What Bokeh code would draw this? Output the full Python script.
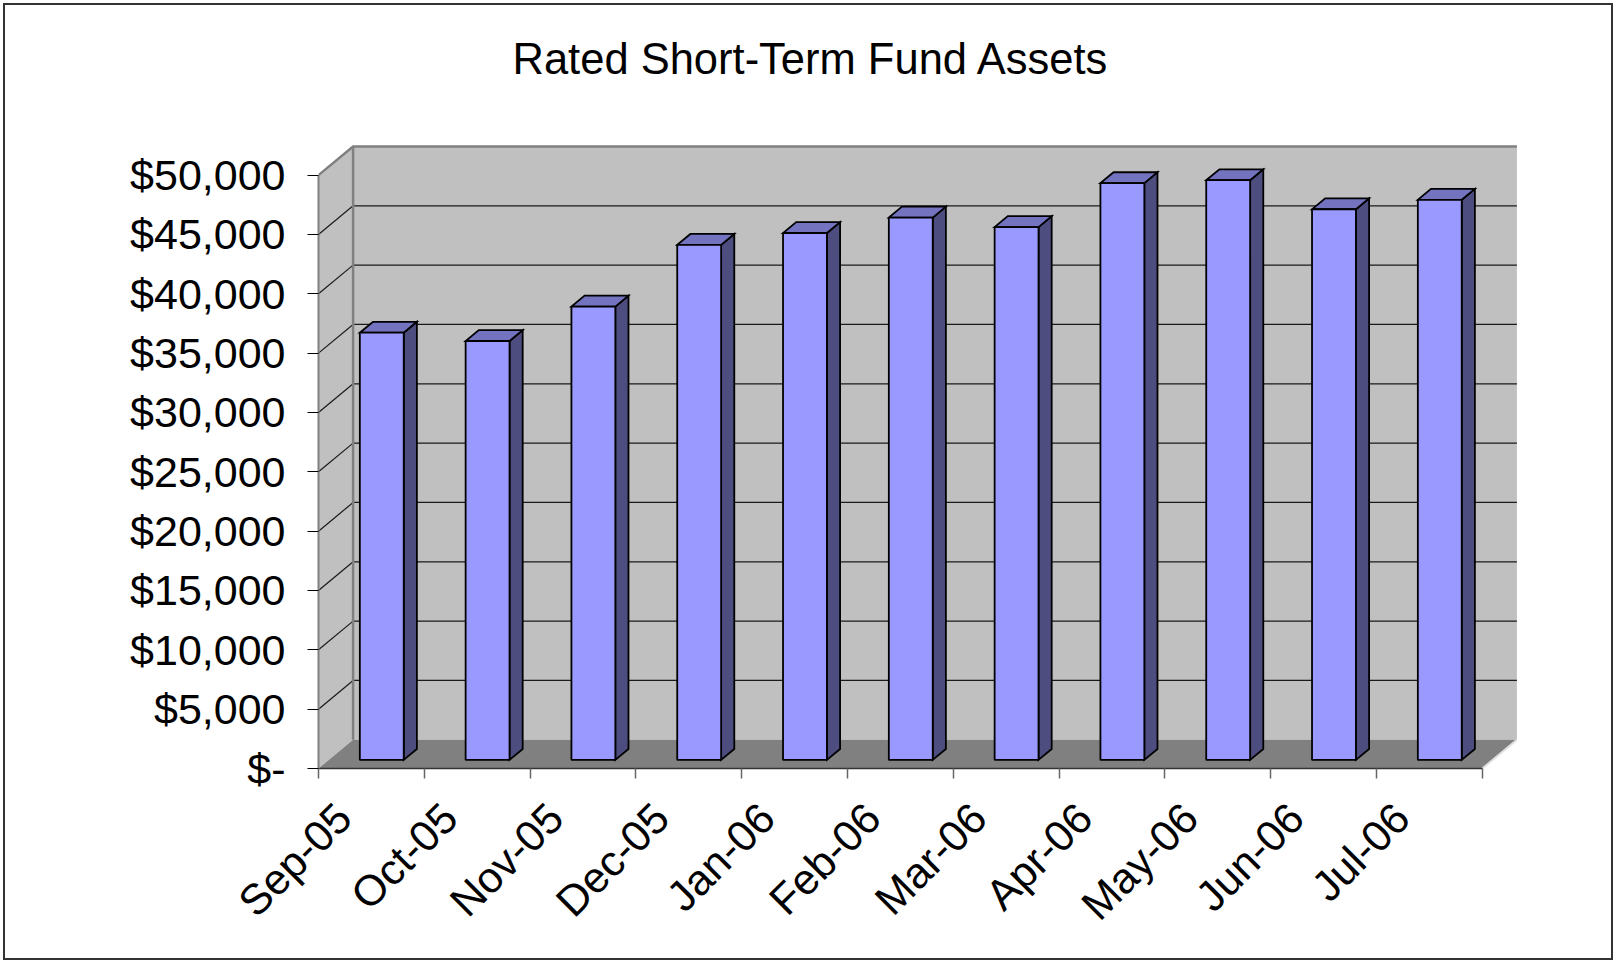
import math
import numpy as np
from bokeh.plotting import figure
from bokeh.models import FixedTicker, Range1d, Title
from bokeh.embed import file_html
from bokeh.resources import INLINE

# ---- data ----
months = ["Sep-05", "Oct-05", "Nov-05", "Dec-05", "Jan-06", "Feb-06",
          "Mar-06", "Apr-06", "May-06", "Jun-06", "Jul-06"]
assets = [36000, 35300, 38200, 43400, 44400, 45700, 44900, 48600, 48850, 46400, 47200]
y_ticks = [0, 5000, 10000, 15000, 20000, 25000, 30000, 35000, 40000, 45000, 50000]
y_tick_labels = ["$-", "$5,000", "$10,000", "$15,000", "$20,000", "$25,000",
                 "$30,000", "$35,000", "$40,000", "$45,000", "$50,000"]
title_text = "Rated Short-Term Fund Assets"

# ---- pseudo-3D style constants ----
DX = 0.327      # depth offset, category units
DY = 2418.0     # depth offset, value units
BAR_W = 0.415
F1, F2 = 0.30, 0.68
LABEL_SHIFT = 0.26
Y_MAX = y_ticks[-1]
FONT = "Liberation Sans"

n = len(months)
p = figure(width=1616, height=963,
           x_range=Range1d(0, n + DX + 0.034), y_range=Range1d(0, Y_MAX + DY + 250),
           output_backend="svg", toolbar_location=None,
           min_border_left=318, min_border_right=96, min_border_top=143, min_border_bottom=195)
p.grid.visible = False
p.outline_line_color = None
p.background_fill_color = "white"
p.border_fill_color = None
p.styles = {"outline": "2px solid #333333", "outline-offset": "-5px", "background-color": "white"}

# walls and floor
p.patch([0, DX, DX, 0], [0, DY, Y_MAX + DY, Y_MAX], fill_color="#C0C0C0", line_color=None)
p.patch([DX, n + DX, n + DX, DX], [DY, DY, Y_MAX + DY, Y_MAX + DY], fill_color="#C0C0C0", line_color=None)
p.patch([0, n, n + DX, DX], [0, 0, DY, DY], fill_color="#808080", line_color=None)

# gridlines
gv = np.array(y_ticks[1:-1], dtype=float)
p.segment(x0=[DX] * len(gv), y0=gv + DY, x1=[n + DX] * len(gv), y1=gv + DY, line_color="#1a1a1a", line_width=1.2)
p.segment(x0=[0] * len(gv), y0=gv, x1=[DX] * len(gv), y1=gv + DY, line_color="#1a1a1a", line_width=1.2)

# wall edges
p.line([0, DX, n + DX], [Y_MAX, Y_MAX + DY, Y_MAX + DY], line_color="#808080", line_width=2.5)
p.line([DX, DX], [DY, Y_MAX + DY], line_color="#808080", line_width=2.5)
p.line([n, n + DX], [0, DY], line_color="#E0E0E0", line_width=2)

# bars
vals = np.array(assets, dtype=float)
xc = np.arange(n) + 0.5
xl = xc - BAR_W / 2 + F1 * DX
xr = xc + BAR_W / 2 + F1 * DX
y0 = F1 * DY
yt = vals + F1 * DY
ddx = (F2 - F1) * DX
ddy = (F2 - F1) * DY

side_xs = [[a, a + ddx, a + ddx, a] for a in xr]
side_ys = [[y0, y0 + ddy, t + ddy, t] for t in yt]
top_xs = [[a, b, b + ddx, a + ddx] for a, b in zip(xl, xr)]
top_ys = [[t, t, t + ddy, t + ddy] for t in yt]
p.patches(side_xs, side_ys, fill_color="#4D4D80", line_color="black", line_width=1.8, line_join="miter")
p.patches(top_xs, top_ys, fill_color="#7373C0", line_color="black", line_width=1.8, line_join="miter")
p.quad(left=xl, right=xr, bottom=y0, top=yt, fill_color="#9999FF", line_color="black", line_width=1.8)

# y axis
ya = p.yaxis[0]
ya.ticker = FixedTicker(ticks=y_ticks)
ya.major_label_overrides = {t: s for t, s in zip(y_ticks, y_tick_labels)}
ya.bounds = (0, Y_MAX)
ya.axis_line_color = "#808080"
ya.axis_line_width = 2
ya.major_tick_out = 11
ya.major_tick_in = 0
ya.major_tick_line_color = "black"
ya.minor_tick_line_color = None
ya.major_label_standoff = 22
ya.major_label_text_font = FONT
ya.major_label_text_font_size = "43px"
ya.major_label_text_color = "black"

# x axis
label_pos = [float(x - LABEL_SHIFT) for x in xc]
xa = p.xaxis[0]
xa.ticker = FixedTicker(ticks=label_pos, minor_ticks=list(range(n + 1)))
xa.major_label_overrides = {x: m for x, m in zip(label_pos, months)}
xa.bounds = (0, n)
xa.axis_line_color = "#333333"
xa.axis_line_width = 1.5
xa.major_tick_out = 0
xa.major_tick_in = 0
xa.minor_tick_out = 10
xa.minor_tick_in = 0
xa.minor_tick_line_color = "#666666"
xa.minor_tick_line_width = 1.5
xa.major_label_orientation = math.pi / 4
xa.major_label_standoff = 32
xa.major_label_text_font = FONT
xa.major_label_text_font_size = "43px"
xa.major_label_text_color = "black"

# title (spacer + title stacked above the frame)
p.add_layout(Title(text=" ", text_font_size="16px", standoff=40), "above")
p.add_layout(Title(text=title_text, text_font=FONT, text_font_size="43.5px", text_font_style="normal",
                   text_color="black", align="left", offset=194, vertical_align="top", standoff=0), "above")

open("out.html", "w").write(file_html(p, INLINE))
